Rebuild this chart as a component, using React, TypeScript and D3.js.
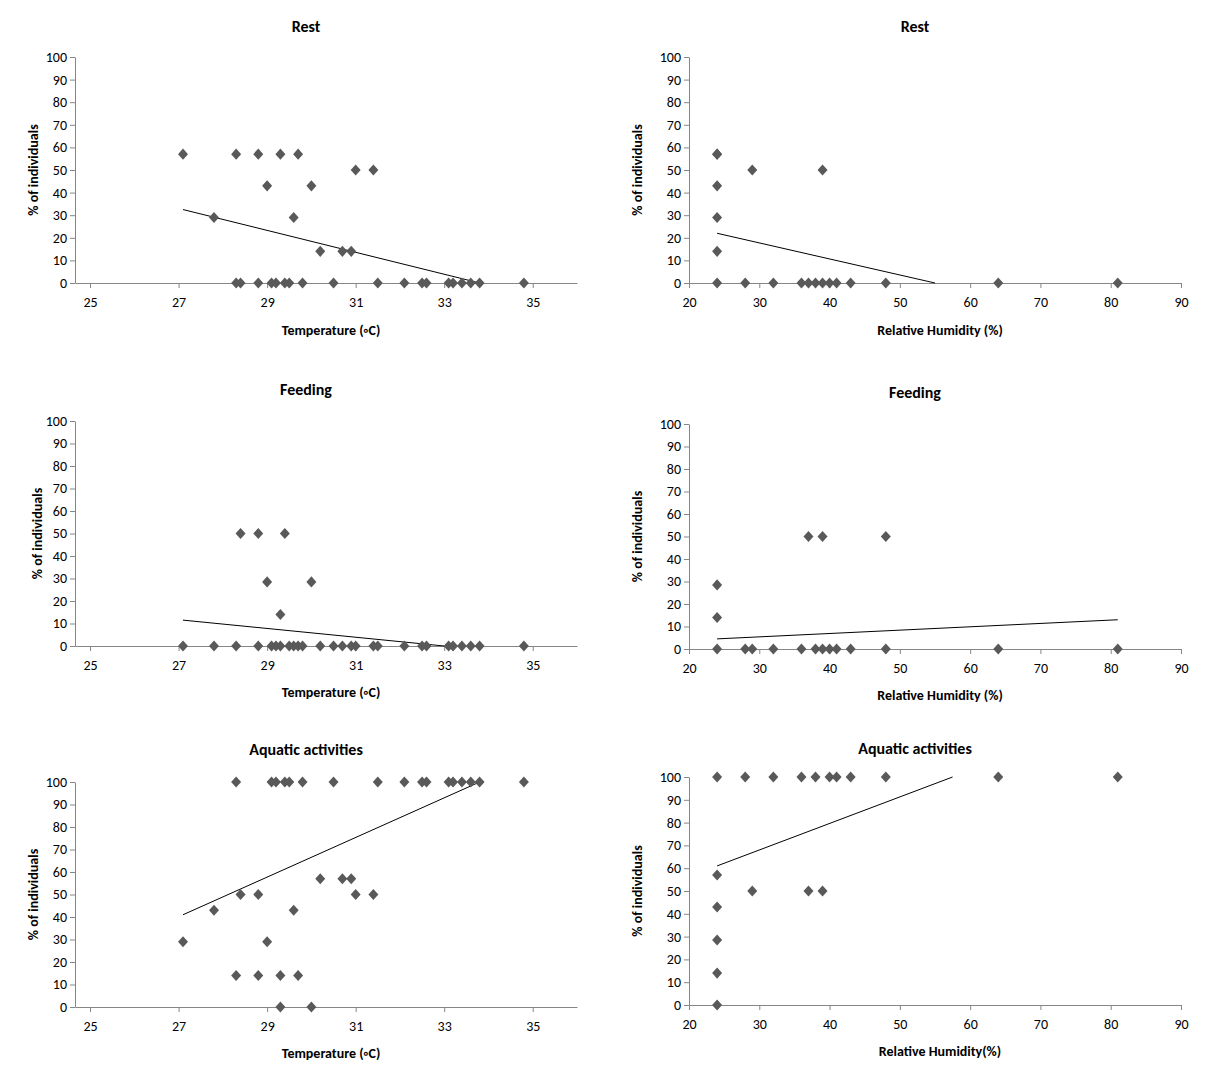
import { useEffect, useRef } from 'react'
import * as d3 from 'd3'

type Pt = [number, number]

// Temperature panels
const restTemp: Pt[] = [
  [27.1, 57], [28.3, 57], [28.8, 57], [29.3, 57], [29.7, 57],
  [31.0, 50], [31.4, 50], [29.0, 43], [30.0, 43], [27.8, 29], [29.6, 29],
  [30.2, 14], [30.7, 14], [30.9, 14],
  [28.3, 0], [28.4, 0], [28.8, 0], [29.1, 0], [29.2, 0], [29.4, 0], [29.5, 0], [29.8, 0],
  [30.5, 0], [31.5, 0], [32.1, 0], [32.5, 0], [32.6, 0], [33.1, 0], [33.2, 0], [33.4, 0],
  [33.6, 0], [33.8, 0], [34.8, 0],
]
const restTempTrend: Pt[] = [[27.1, 32.5], [33.8, 0]]

const feedTemp: Pt[] = [
  [28.4, 50], [28.8, 50], [29.4, 50], [29.0, 28.5], [30.0, 28.5], [29.3, 14],
  [27.1, 0], [27.8, 0], [28.3, 0], [28.8, 0], [29.1, 0], [29.2, 0], [29.3, 0], [29.5, 0],
  [29.6, 0], [29.7, 0], [29.8, 0], [30.2, 0], [30.5, 0], [30.7, 0], [30.9, 0], [31.0, 0],
  [31.4, 0], [31.5, 0], [32.1, 0], [32.5, 0], [32.6, 0], [33.1, 0], [33.2, 0], [33.4, 0],
  [33.6, 0], [33.8, 0], [34.8, 0],
]
const feedTempTrend: Pt[] = [[27.1, 11.5], [33.0, 0]]

const aquaTemp: Pt[] = [
  [28.3, 100], [29.1, 100], [29.2, 100], [29.4, 100], [29.5, 100], [29.8, 100], [30.5, 100],
  [31.5, 100], [32.1, 100], [32.5, 100], [32.6, 100], [33.1, 100], [33.2, 100], [33.4, 100],
  [33.6, 100], [33.8, 100], [34.8, 100],
  [30.2, 57], [30.7, 57], [30.9, 57], [28.4, 50], [28.8, 50], [31.0, 50], [31.4, 50],
  [27.8, 43], [29.6, 43], [27.1, 29], [29.0, 29],
  [28.3, 14], [28.8, 14], [29.3, 14], [29.7, 14], [29.3, 0], [30.0, 0],
]
const aquaTempTrend: Pt[] = [[27.1, 41], [33.8, 100]]

// Relative humidity panels
const restRH: Pt[] = [
  [24, 57], [24, 57], [29, 50], [39, 50], [24, 43], [24, 29], [24, 14],
  [24, 0], [28, 0], [32, 0], [36, 0], [37, 0], [38, 0], [39, 0], [40, 0], [41, 0], [43, 0],
  [48, 0], [64, 0], [81, 0],
]
const restRHTrend: Pt[] = [[24, 22], [55, 0]]

const feedRH: Pt[] = [
  [37, 50], [39, 50], [48, 50], [24, 28.5], [24, 14],
  [24, 0], [28, 0], [29, 0], [32, 0], [36, 0], [38, 0], [39, 0], [40, 0], [41, 0], [43, 0],
  [48, 0], [64, 0], [81, 0],
]
const feedRHTrend: Pt[] = [[24, 4.5], [81, 13]]

const aquaRH: Pt[] = [
  [24, 100], [28, 100], [32, 100], [36, 100], [38, 100], [40, 100], [41, 100], [43, 100],
  [48, 100], [64, 100], [81, 100],
  [24, 57], [29, 50], [37, 50], [39, 50], [24, 43], [24, 28.5], [24, 14], [24, 0],
]
const aquaRHTrend: Pt[] = [[24, 61], [57.5, 100]]

const tempTicks = [25, 27, 29, 31, 33, 35]
const rhTicks = [20, 30, 40, 50, 60, 70, 80, 90]
const yTicks = d3.range(0, 101, 10)

interface PanelProps {
  title: string
  xLabel: string
  points: Pt[]
  trend: Pt[]
  xDomain: [number, number]
  xTicks: number[]
  left: number
  right: number
  top: number
  bottom: number
  titleY: number
  labelY: number
  yLabelX: number
}

function Panel(p: PanelProps) {
  const ref = useRef<SVGGElement>(null)

  useEffect(() => {
    if (!ref.current) return
    const g = d3.select(ref.current)
    g.selectAll('*').remove()

    const x = d3.scaleLinear().domain(p.xDomain).range([p.left, p.right])
    const y = d3.scaleLinear().domain([0, 100]).range([p.bottom, p.top])
    const font = 'Calibri, Carlito, "Liberation Sans", Arial, sans-serif'

    const xAxis = g.append('g')
      .attr('transform', `translate(0,${p.bottom})`)
      .call(d3.axisBottom(x).tickValues(p.xTicks).tickSize(5).tickSizeOuter(0).tickPadding(9))
    const yAxis = g.append('g')
      .attr('transform', `translate(${p.left},0)`)
      .call(d3.axisLeft(y).tickValues(yTicks).tickSize(5).tickSizeOuter(0).tickPadding(3))

    for (const a of [xAxis, yAxis]) {
      a.selectAll('.domain, .tick line').attr('stroke', '#868686')
      a.selectAll('text').attr('font-size', 14).attr('font-family', font).attr('fill', '#000')
    }

    g.append('line')
      .attr('x1', x(p.trend[0][0])).attr('y1', y(p.trend[0][1]))
      .attr('x2', x(p.trend[1][0])).attr('y2', y(p.trend[1][1]))
      .attr('stroke', '#000').attr('stroke-width', 1)

    const diamond = d3.symbol(d3.symbolDiamond, 36)
    g.selectAll('.pt')
      .data(p.points)
      .enter()
      .append('path')
      .attr('d', diamond())
      .attr('transform', d => `translate(${x(d[0])},${y(d[1])}) scale(1.55,1)`)
      .attr('fill', '#595959')

    g.append('text')
      .attr('x', (p.left + p.right) / 2 - 20).attr('y', p.titleY)
      .attr('text-anchor', 'middle').attr('font-size', 16).attr('font-weight', 'bold')
      .attr('font-family', font).text(p.title)

    g.append('text')
      .attr('x', (p.left + p.right) / 2 + 5).attr('y', p.labelY)
      .attr('text-anchor', 'middle').attr('font-size', 14).attr('font-weight', 'bold')
      .attr('font-family', font).text(p.xLabel)

    g.append('text')
      .attr('transform', `translate(${p.yLabelX},${(p.top + p.bottom) / 2}) rotate(-90)`)
      .attr('text-anchor', 'middle').attr('font-size', 14).attr('font-weight', 'bold')
      .attr('font-family', font).text('% of individuals')
  }, [p])

  return <g ref={ref} />
}

export default function App() {
  const tDom: [number, number] = [24.66, 36]
  const hDom: [number, number] = [20, 90]
  const L = { left: 75, right: 577 }
  const R = { left: 689, right: 1181 }
  return (
    <svg width={1209} height={1085} style={{ position: 'absolute', left: 0, top: 0, background: '#fff' }}>
      <Panel title="Rest" xLabel="Temperature (◦C)" points={restTemp} trend={restTempTrend}
        xDomain={tDom} xTicks={tempTicks} {...L} top={57} bottom={283} titleY={32} labelY={335} yLabelX={38} />
      <Panel title="Rest" xLabel="Relative Humidity (%)" points={restRH} trend={restRHTrend}
        xDomain={hDom} xTicks={rhTicks} {...R} top={57} bottom={283} titleY={32} labelY={335} yLabelX={642} />
      <Panel title="Feeding" xLabel="Temperature (◦C)" points={feedTemp} trend={feedTempTrend}
        xDomain={tDom} xTicks={tempTicks} {...L} top={421} bottom={646} titleY={395} labelY={697} yLabelX={42} />
      <Panel title="Feeding" xLabel="Relative Humidity (%)" points={feedRH} trend={feedRHTrend}
        xDomain={hDom} xTicks={rhTicks} {...R} top={424} bottom={649} titleY={398} labelY={700} yLabelX={642} />
      <Panel title="Aquatic activities" xLabel="Temperature (◦C)" points={aquaTemp} trend={aquaTempTrend}
        xDomain={tDom} xTicks={tempTicks} {...L} top={782} bottom={1007} titleY={755} labelY={1058} yLabelX={38} />
      <Panel title="Aquatic activities" xLabel="Relative Humidity(%)" points={aquaRH} trend={aquaRHTrend}
        xDomain={hDom} xTicks={rhTicks} {...R} top={777} bottom={1005} titleY={754} labelY={1056} yLabelX={642} />
    </svg>
  )
}
